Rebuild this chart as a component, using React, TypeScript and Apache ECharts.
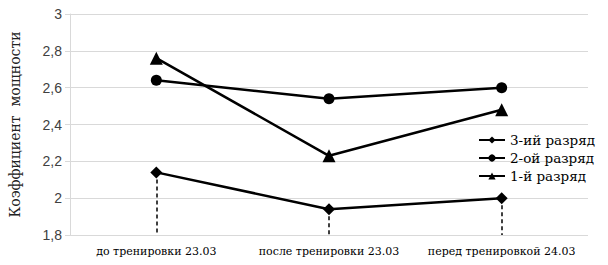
import React, { useEffect, useRef } from "react";
import * as echarts from "echarts";

const categories = ["до тренировки 23.03", "после тренировки 23.03", "перед тренировкой 24.03"];
const series3 = [2.14, 1.94, 2.0];
const series2 = [2.64, 2.54, 2.6];
const series1 = [2.76, 2.23, 2.48];
const seriesNames = ["3-ий разряд", "2-ой разряд", "1-й разряд"];
const yMin = 1.8;
const yMax = 3;
const yStep = 0.2;

export default function App() {
  const ref = useRef<HTMLDivElement>(null);
  useEffect(() => {
    if (!ref.current) return;
    const chart = echarts.init(ref.current, null, { renderer: "svg" });
    const serif = "DejaVu Serif";
    const lineStyle = { color: "#000", width: 2.5 };
    chart.setOption({
      animation: false,
      textStyle: { fontFamily: serif },
      grid: { left: 68, right: 20, top: 14, bottom: 30, containLabel: false },
      legend: {
        orient: "vertical",
        left: 473,
        top: 128,
        itemGap: 4,
        itemWidth: 26,
        itemHeight: 9,
        textStyle: { fontFamily: serif, fontSize: 13.5, color: "#000" },
        data: seriesNames,
      },
      xAxis: {
        type: "category",
        data: categories,
        boundaryGap: true,
        axisLine: { show: false },
        axisTick: { show: false },
        axisLabel: { fontFamily: serif, fontSize: 11, color: "#000", margin: 11, interval: 0 },
      },
      yAxis: {
        type: "value",
        min: yMin,
        max: yMax,
        interval: yStep,
        name: "Коэффициент  мощности",
        nameLocation: "middle",
        nameGap: 48,
        nameTextStyle: { fontFamily: serif, fontSize: 14, color: "#222" },
        axisLine: { show: true, lineStyle: { color: "#d9d9d9" } },
        axisTick: { show: true, length: 5, lineStyle: { color: "#d9d9d9" } },
        splitLine: { show: true, lineStyle: { color: "#d9d9d9", width: 1 } },
        axisLabel: {
          fontFamily: "Liberation Sans",
          fontSize: 14,
          color: "#404040",
          margin: 8,
          formatter: (v: number) => String(Math.round(v * 10) / 10).replace(".", ","),
        },
      },
      series: [
        {
          name: seriesNames[0],
          type: "line",
          data: series3,
          symbol: "diamond",
          symbolSize: 12,
          itemStyle: { color: "#000" },
          lineStyle,
          z: 3,
          markLine: {
            silent: true,
            symbol: ["none", "none"],
            label: { show: false },
            lineStyle: { color: "#000", type: [4, 3], width: 1.5 },
            data: series3.map((v, i) => [
              { coord: [i, v] },
              { coord: [i, yMin] },
            ]),
            z: 1,
          },
        },
        {
          name: seriesNames[1],
          type: "line",
          data: series2,
          symbol: "circle",
          symbolSize: 11,
          itemStyle: { color: "#000" },
          lineStyle,
        },
        {
          name: seriesNames[2],
          type: "line",
          data: series1,
          symbol: "triangle",
          symbolSize: 13,
          itemStyle: { color: "#000" },
          lineStyle,
        },
      ],
    });
    return () => chart.dispose();
  }, []);
  return <div ref={ref} style={{ width: 608, height: 265, position: "absolute", left: 0, top: 0 }} />;
}
